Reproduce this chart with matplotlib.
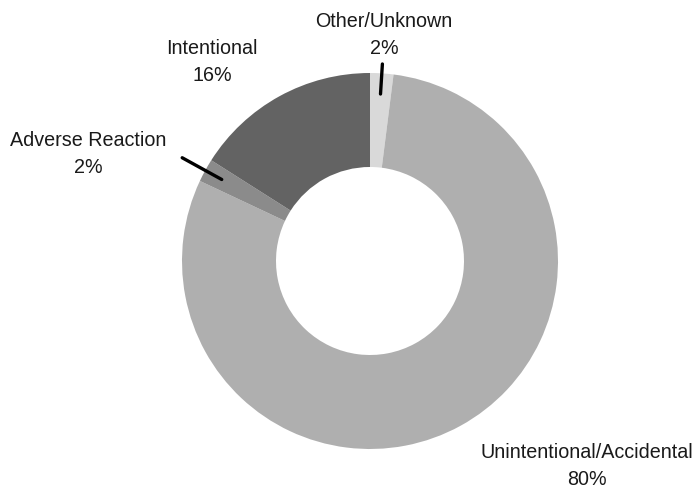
import matplotlib
matplotlib.use("Agg")
import matplotlib.pyplot as plt
import numpy as np

categories = ["Other/Unknown", "Unintentional/Accidental", "Adverse Reaction", "Intentional"]
values = [2, 80, 2, 16]
colors = ["#d9d9d9", "#afafaf", "#8b8b8b", "#636363"]

plt.rcParams['font.family'] = ['Liberation Sans', 'DejaVu Sans']

W, H = 698, 489
fig = plt.figure(figsize=(W / 100, H / 100), dpi=100)
ax = fig.add_axes([0, 0, 1, 1])

cx, cy, R = 370, H - 262, 188
wedges, _ = ax.pie(values, colors=colors, startangle=90, counterclock=False,
                   center=(cx, cy), radius=R, frame=True,
                   wedgeprops=dict(width=R * 0.5, linewidth=0))
ax.set_xlim(0, W)
ax.set_ylim(0, H)
ax.set_aspect('equal')
ax.axis('off')

# label placement (pixel coords from top)
label_pos = {
    "Other/Unknown": (384, 35),
    "Unintentional/Accidental": (587, 466),
    "Adverse Reaction": (88, 154),
    "Intentional": (212, 62),
}
leaders = {
    "Other/Unknown": (0.89, 1.05),
    "Adverse Reaction": (0.90, 1.14),
}
for w, cat, v in zip(wedges, categories, values):
    x, y = label_pos[cat]
    ax.text(x, H - y, f"{cat}\n{v}%", ha='center', va='center', fontsize=14.2,
            linespacing=1.58, color='#1a1a1a')
    if cat in leaders:
        ang = np.deg2rad((w.theta1 + w.theta2) / 2)
        r0, r1 = leaders[cat]
        ax.plot([cx + r0 * R * np.cos(ang), cx + r1 * R * np.cos(ang)],
                [cy + r0 * R * np.sin(ang), cy + r1 * R * np.sin(ang)],
                color='black', lw=2.4, solid_capstyle='round')

fig.savefig("out.png", dpi=100)
